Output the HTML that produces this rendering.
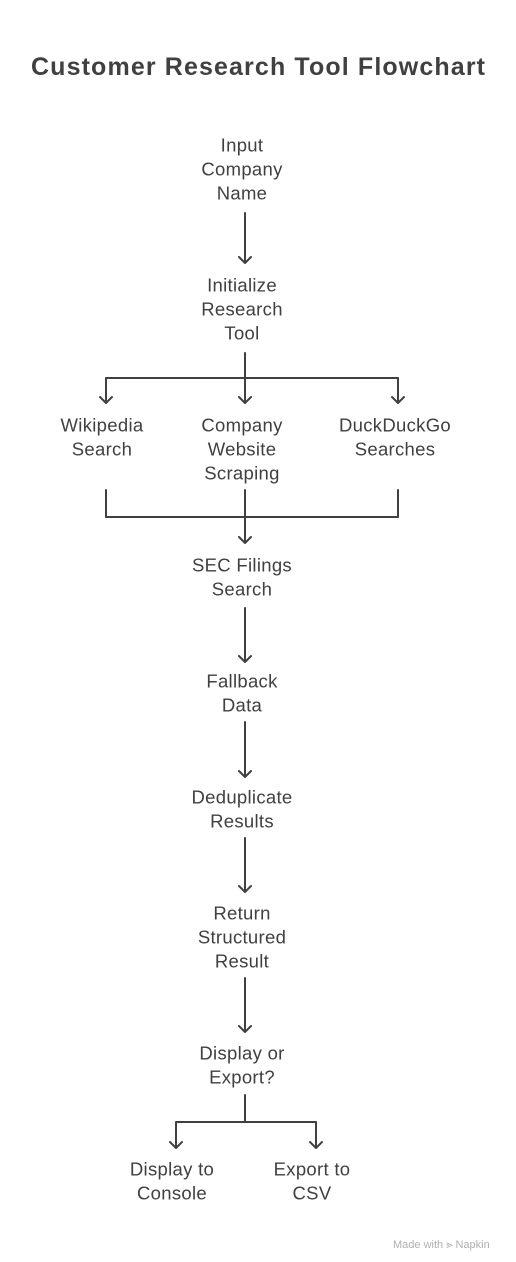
<!DOCTYPE html>
<html><head><meta charset="utf-8"><style>
html,body{margin:0;padding:0;background:#fff;}
svg{display:block;}
text{font-family:"Liberation Sans",sans-serif;fill:#404040;}
.n{font-size:18.5px;text-anchor:middle;dominant-baseline:central;letter-spacing:0.3px;}
</style></head><body>
<svg width="516" height="1262" viewBox="0 0 516 1262" xmlns="http://www.w3.org/2000/svg">
<rect width="516" height="1262" fill="#fff"/>
<text x="258" y="67" font-size="25" font-weight="bold" text-anchor="middle" dominant-baseline="central" textLength="454" lengthAdjust="spacing">Customer Research Tool Flowchart</text>
<g fill="none" stroke="#404040" stroke-width="2" stroke-linecap="round" stroke-linejoin="round">
<path d="M245 213V263M239 257L245 263L251 257"/>
<path d="M245 353V403M106 403V378H398V403"/>
<path d="M100 397L106 403L112 397M239 397L245 403L251 397M392 397L398 403L404 397"/>
<path d="M106 490V517H398V490M245 490V543M239 537L245 543L251 537"/>
<path d="M245 608V662M239 656L245 662L251 656"/>
<path d="M245 722V777M239 771L245 777L251 771"/>
<path d="M245 838V892M239 886L245 892L251 886"/>
<path d="M245 978V1032M239 1026L245 1032L251 1026"/>
<path d="M245 1095V1122M176 1148V1122H316V1148M170 1142L176 1148L182 1142M310 1142L316 1148L322 1142"/>
</g>
<g class="n">
<text class="n" x="242" y="145">Input</text><text class="n" x="242" y="169">Company</text><text class="n" x="242" y="193">Name</text>
<text class="n" x="242" y="285">Initialize</text><text class="n" x="242" y="309">Research</text><text class="n" x="242" y="333">Tool</text>
<text class="n" x="102" y="425">Wikipedia</text><text class="n" x="102" y="449">Search</text>
<text class="n" x="242" y="425">Company</text><text class="n" x="242" y="449">Website</text><text class="n" x="242" y="473">Scraping</text>
<text class="n" x="395" y="425">DuckDuckGo</text><text class="n" x="395" y="449">Searches</text>
<text class="n" x="242" y="565">SEC Filings</text><text class="n" x="242" y="589">Search</text>
<text class="n" x="242" y="681">Fallback</text><text class="n" x="242" y="705">Data</text>
<text class="n" x="242" y="797">Deduplicate</text><text class="n" x="242" y="821">Results</text>
<text class="n" x="242" y="913">Return</text><text class="n" x="242" y="937">Structured</text><text class="n" x="242" y="961">Result</text>
<text class="n" x="242" y="1053">Display or</text><text class="n" x="242" y="1077">Export?</text>
<text class="n" x="172" y="1169">Display to</text><text class="n" x="172" y="1193">Console</text>
<text class="n" x="312" y="1169">Export to</text><text class="n" x="312" y="1193">CSV</text>
</g>
<text x="393" y="1245" font-size="11" style="fill:#b0b0b0" dominant-baseline="central">Made with ⪢ Napkin</text>
</svg>
</body></html>
